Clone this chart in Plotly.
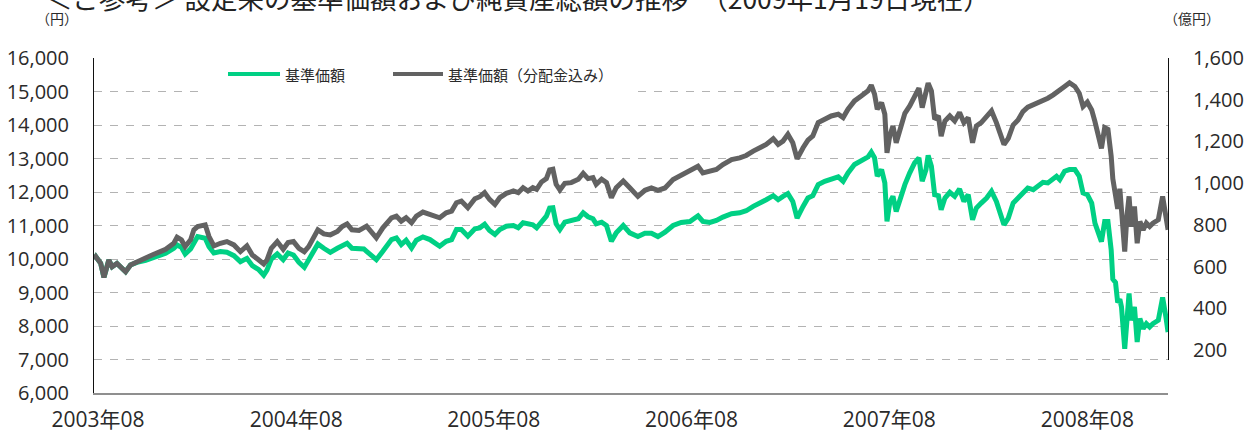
import plotly.graph_objects as go

# ---------------- data ----------------
dates = [
    "2003-07-25", "2003-07-28", "2003-08-06", "2003-08-12", "2003-08-21", "2003-08-27",
    "2003-09-05", "2003-09-11", "2003-09-21", "2003-09-30", "2003-10-12", "2003-10-28",
    "2003-11-09", "2003-11-24", "2003-12-04", "2003-12-19", "2003-12-25", "2004-01-02",
    "2004-01-09", "2004-01-19", "2004-01-25", "2004-02-01", "2004-02-15", "2004-02-22",
    "2004-03-02", "2004-03-14", "2004-03-26", "2004-04-08", "2004-04-20", "2004-05-02",
    "2004-05-12", "2004-05-24", "2004-06-02", "2004-06-08", "2004-06-16", "2004-06-27",
    "2004-07-08", "2004-07-17", "2004-07-27", "2004-08-06", "2004-08-16", "2004-08-24",
    "2004-09-02", "2004-09-10", "2004-09-21", "2004-10-03", "2004-10-16", "2004-10-25",
    "2004-11-03", "2004-11-12", "2004-11-25", "2004-12-04",
    "2004-12-09", "2004-12-27", "2005-01-08", "2005-01-24", "2005-02-02", "2005-02-11",
    "2005-02-20", "2005-03-02", "2005-03-11", "2005-03-23", "2005-04-05", "2005-04-23",
    "2005-05-05", "2005-05-15", "2005-05-24", "2005-06-02", "2005-06-14", "2005-06-27",
    "2005-07-06", "2005-07-15", "2005-07-24", "2005-08-03", "2005-08-12", "2005-08-24",
    "2005-09-06", "2005-09-15", "2005-09-24", "2005-10-03", "2005-10-12", "2005-10-19",
    "2005-10-28", "2005-11-06", "2005-11-12", "2005-11-18", "2005-11-24", "2005-12-01",
    "2005-12-10", "2005-12-22", "2006-01-04", "2006-01-13", "2006-01-22", "2006-01-31",
    "2006-02-06", "2006-02-16", "2006-02-25", "2006-03-06", "2006-03-15", "2006-03-28",
    "2006-04-09",
    "2006-04-24", "2006-05-07", "2006-05-19", "2006-05-31", "2006-06-13", "2006-06-28",
    "2006-07-13", "2006-07-29", "2006-08-13", "2006-08-22", "2006-09-04", "2006-09-16",
    "2006-09-28", "2006-10-14", "2006-10-29", "2006-11-10", "2006-11-23", "2006-12-05",
    "2006-12-17", "2006-12-30", "2007-01-08", "2007-01-17", "2007-01-26", "2007-02-04",
    "2007-02-12", "2007-02-23", "2007-03-04", "2007-03-13", "2007-03-23", "2007-04-04",
    "2007-04-16", "2007-04-29", "2007-05-08", "2007-05-17", "2007-05-29", "2007-06-11",
    "2007-06-23", "2007-06-29", "2007-07-05", "2007-07-10", "2007-07-18", "2007-07-24",
    "2007-07-28",
    "2007-08-02", "2007-08-08", "2007-08-14", "2007-08-21", "2007-08-30", "2007-09-08",
    "2007-09-17", "2007-09-25", "2007-10-01", "2007-10-08", "2007-10-12", "2007-10-18",
    "2007-10-24", "2007-10-31", "2007-11-05", "2007-11-12", "2007-11-21", "2007-11-30",
    "2007-12-09", "2007-12-17", "2007-12-25", "2008-01-02", "2008-01-09", "2008-01-18",
    "2008-01-28", "2008-02-06", "2008-02-15", "2008-02-29", "2008-03-08", "2008-03-17",
    "2008-03-26", "2008-04-04", "2008-04-13", "2008-04-23", "2008-05-02", "2008-05-11",
    "2008-05-20", "2008-05-30", "2008-06-05", "2008-06-11", "2008-06-20", "2008-06-29",
    "2008-07-09", "2008-07-17", "2008-07-24", "2008-08-01", "2008-08-09", "2008-08-15",
    "2008-08-21", "2008-08-27", "2008-09-02", "2008-09-08", "2008-09-14", "2008-09-17",
    "2008-09-22", "2008-09-26", "2008-09-30", "2008-10-03", "2008-10-09", "2008-10-13",
    "2008-10-17", "2008-10-21", "2008-10-27", "2008-11-01", "2008-11-06", "2008-11-12",
    "2008-11-18", "2008-11-24", "2008-11-30", "2008-12-10", "2008-12-18", "2008-12-24",
    "2008-12-28",
]

# 基準価額（分配金込み） – grey line
nav_with_dist = [
    10000, 10070, 9870, 9450, 9970, 9770,
    9870, 9770, 9620, 9820, 9920, 10020,
    10120, 10220, 10290, 10470, 10650, 10570,
    10370, 10570, 10870, 10970, 11020, 10670,
    10390, 10470, 10520, 10420, 10220, 10390,
    10120, 9970, 9850, 9970, 10320, 10520,
    10290, 10490, 10520, 10320, 10220, 10370,
    10620, 10870, 10750, 10720, 10820, 10970,
    11050, 10870, 10850, 10920,
    10980, 10630, 10930, 11230, 11280, 11130,
    11230, 11080, 11280, 11400, 11330, 11230,
    11380, 11430, 11680, 11730, 11530, 11800,
    11860, 11980, 11780, 11630, 11830, 11960,
    12030, 11980, 12130, 12030, 12130, 12080,
    12300, 12400, 12660, 12680, 12230, 12060,
    12260, 12280, 12380, 12560, 12400, 12430,
    12230, 12380, 12280, 11830, 12130, 12330,
    12130,
    11870, 12050, 12120, 12050, 12120, 12370,
    12490, 12620, 12770, 12570, 12620, 12670,
    12820, 12970, 13020, 13090, 13220, 13320,
    13420, 13590, 13420, 13520, 13720, 13470,
    12990, 13320, 13550, 13670, 14070, 14170,
    14270, 14320, 14220, 14470, 14720, 14870,
    15020, 15190, 14920, 14470, 14670, 14320,
    13170,
    13670, 13970, 13470, 13920, 14350, 14570,
    14820, 15100, 14520, 14920, 15250, 15020,
    14170, 14270, 13670, 14120, 14270, 14120,
    14370, 14070, 14220, 13470, 13970, 14070,
    14270, 14420, 14070, 13420, 13600, 14000,
    14150, 14400, 14530, 14600, 14650, 14750,
    14800, 14900, 14970, 15000, 15150, 15260,
    15150, 14950, 14550, 14680, 14450, 14100,
    13700, 13300, 13920, 13870, 13070, 12400,
    11900, 11500, 12100, 11470, 10220, 11270,
    11870, 10970, 11570, 10470, 11120, 10870,
    11070, 10970, 11070, 11170, 11870, 11270,
    10870,
]

# 基準価額 – green line
nav = [
    10000, 10070, 9870, 9450, 9970, 9770,
    9870, 9770, 9620, 9820, 9900, 9960,
    10040, 10100, 10170, 10320, 10420, 10350,
    10150, 10300, 10500, 10670, 10620, 10370,
    10180, 10220, 10200, 10100, 9920, 10020,
    9800, 9680, 9520, 9670, 10000, 10150,
    9980, 10180, 10120, 9900, 9750, 9970,
    10170, 10450, 10320, 10200, 10320, 10400,
    10470, 10320, 10320, 10300,
    10230, 9980, 10230, 10580, 10630, 10430,
    10560, 10330, 10560, 10660, 10580, 10380,
    10530, 10580, 10880, 10880, 10680, 10900,
    10930, 11040, 10850, 10730, 10880, 10980,
    11000, 10930, 11080, 11040, 11020, 10930,
    11130, 11280, 11520, 11530, 11050, 10880,
    11100, 11130, 11200, 11380, 11260, 11200,
    11050, 11100, 11000, 10530, 10780, 11000,
    10780,
    10670, 10770, 10770, 10670, 10800, 11000,
    11090, 11120, 11290, 11120, 11090, 11150,
    11250, 11350, 11380, 11440, 11570, 11690,
    11770, 11890, 11770, 11870, 11950, 11720,
    11220, 11570, 11820, 11890, 12220, 12320,
    12390, 12450, 12320, 12570, 12820, 12920,
    13050, 13190, 13020, 12470, 12670, 12270,
    11120,
    11670, 11870, 11420, 11820, 12220, 12570,
    12870, 13020, 12320, 12670, 13090, 12770,
    11920, 11890, 11470, 11820, 11990, 11870,
    12090, 11720, 11920, 11170, 11520, 11670,
    11820, 12020, 11720, 11020, 11220, 11670,
    11820, 11970, 12120, 12070, 12190, 12290,
    12270, 12370, 12470, 12370, 12620, 12670,
    12670, 12470, 11970, 11920, 11670, 11070,
    10770, 10520, 11120, 11120, 10270, 9400,
    9300, 8700, 8800, 8570, 7320, 8370,
    8970, 8170, 8570, 7520, 8220, 7920,
    8070, 7970, 8070, 8170, 8850, 8270,
    7820,
]

left_ticks = [6000, 7000, 8000, 9000, 10000, 11000, 12000, 13000, 14000, 15000, 16000]
right_ticks = [200, 400, 600, 800, 1000, 1200, 1400, 1600]
year_ticks = ["2003-08-01", "2004-08-01", "2005-08-01", "2006-08-01", "2007-08-01", "2008-08-01"]
year_labels = ["2003年08", "2004年08", "2005年08", "2006年08", "2007年08", "2008年08"]

name_nav = "基準価額"
name_div = "基準価額（分配金込み）"
title_text = "＜ご参考＞ 設定来の基準価額および純資産総額の推移　（2009年1月19日現在）"

GREEN = "#00D084"
GREY = "#626262"
FONT = "Open Sans, Noto Sans CJK JP, sans-serif"
TXT = "#2a2a2a"

# ---------------- figure ----------------
W, H = 1253, 434
ML, MR, MT, MB = 94, 85, 58, 41
PW, PH = W - ML - MR, H - MT - MB


def px(xp):
    return (xp - ML) / PW


def py(yp):
    return (H - MB - yp) / PH


fig = go.Figure()
fig.add_trace(go.Scatter(x=dates, y=nav, mode="lines", name=name_nav,
                         line=dict(color=GREEN, width=5), showlegend=False))
fig.add_trace(go.Scatter(x=dates, y=nav_with_dist, mode="lines", name=name_div,
                         line=dict(color=GREY, width=5), showlegend=False))
# empty trace to bring the right (億円) axis to life
fig.add_trace(go.Scatter(x=[], y=[], yaxis="y2", showlegend=False, hoverinfo="skip"))

fig.update_layout(
    template="none",
    width=W, height=H,
    margin=dict(l=ML, r=MR, t=MT, b=MB, autoexpand=False),
    paper_bgcolor="white", plot_bgcolor="rgba(0,0,0,0)",
    font=dict(family=FONT, color=TXT),
    xaxis=dict(
        type="date", automargin=False,
        range=["2003-07-24 15:00", "2008-12-27 22:00"],
        tickvals=year_ticks, ticktext=year_labels,
        tickfont=dict(size=21, color=TXT),
        showgrid=False, zeroline=False,
        showline=True, linecolor="#8f8f8f", linewidth=2,
        ticks="outside", ticklen=7, tickcolor="rgba(0,0,0,0)",
    ),
    yaxis=dict(
        automargin=False,
        range=[6000, 16000], tickvals=left_ticks, tickformat=",",
        tickfont=dict(size=20, color=TXT),
        showgrid=True, gridcolor="#b3b3b3", gridwidth=1.3, griddash="8px,8px",
        zeroline=False,
        showline=True, linecolor="#111111", linewidth=1,
        ticks="outside", ticklen=20, tickcolor="rgba(0,0,0,0)",
    ),
    yaxis2=dict(
        automargin=False,
        domain=[(H - MB - 360) / PH, 1], range=[152, 1600],
        anchor="x", side="right",
        tickvals=right_ticks, tickformat=",",
        tickfont=dict(size=20, color=TXT),
        showgrid=False, zeroline=False,
        showline=True, linecolor="#111111", linewidth=1,
        ticks="outside", ticklen=20, tickcolor="rgba(0,0,0,0)",
    ),
    showlegend=False,
)

# legend (white box over the grid, line samples and labels)
fig.add_shape(type="rect", xref="paper", yref="paper",
              x0=px(203), x1=px(632), y0=py(106), y1=py(52),
              fillcolor="white", line=dict(width=0), layer="above")
fig.add_shape(type="line", xref="paper", yref="paper",
              x0=px(228), x1=px(280), y0=py(74), y1=py(74),
              line=dict(color=GREEN, width=4), layer="above")
fig.add_shape(type="line", xref="paper", yref="paper",
              x0=px(393), x1=px(443), y0=py(74), y1=py(74),
              line=dict(color=GREY, width=4), layer="above")
fig.add_annotation(text=name_nav, xref="paper", yref="paper", x=px(283), y=py(74),
                   xanchor="left", yanchor="middle", showarrow=False,
                   font=dict(size=15, color=TXT, family="Noto Sans CJK JP"))
fig.add_annotation(text=name_div, xref="paper", yref="paper", x=px(446), y=py(74),
                   xanchor="left", yanchor="middle", showarrow=False,
                   font=dict(size=15, color=TXT, family="Noto Sans CJK JP"))

# title (cut off at the top edge in the reference) and unit labels
fig.add_annotation(text=title_text, xref="paper", yref="paper", x=px(44), y=py(-2.5),
                   xanchor="left", yanchor="middle", showarrow=False,
                   font=dict(size=26.5, color="#222222", family="Noto Sans CJK JP"))
fig.add_annotation(text="（円）", xref="paper", yref="paper", x=px(57), y=py(18),
                   xanchor="center", yanchor="middle", showarrow=False,
                   font=dict(size=14, color=TXT, family="Noto Sans CJK JP"))
fig.add_annotation(text="（億円）", xref="paper", yref="paper", x=px(1192), y=py(18),
                   xanchor="center", yanchor="middle", showarrow=False,
                   font=dict(size=14, color=TXT, family="Noto Sans CJK JP"))

fig.write_html("out.html",
               config={"displayModeBar": False},
               post_script="document.body.style.margin='0px';document.body.style.overflow='hidden';")
